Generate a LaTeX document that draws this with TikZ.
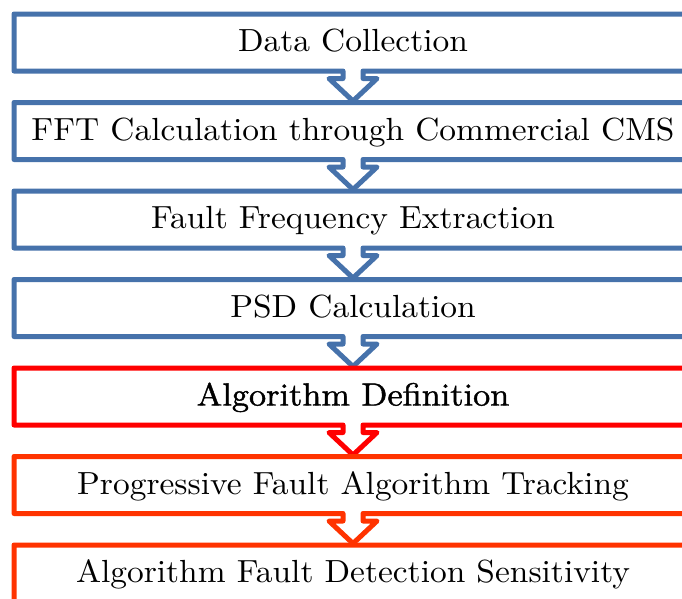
\documentclass[tikz,border=0pt]{standalone}
\usepackage{fontspec}
\usepackage{xcolor}
\usepackage{tikz}
\usetikzlibrary{positioning}
\setmainfont{lmroman10-regular}[Extension=.otf,FakeStretch=1.045]
\newfontfamily\heavylm{lmroman10-regular}[Extension=.otf,FakeStretch=1.07,FakeBold=1.3]
\definecolor{stageblue}{HTML}{4672AB}
\definecolor{stagered}{HTML}{FF0000}
\definecolor{stageorange}{HTML}{FF3300}
\tikzset{
  stagetext/.style={font=\fontsize{32}{38}\selectfont, inner sep=0pt, anchor=base},
  stageline/.style={line width=5pt, line join=round},
}

\begin{document}
\begin{tikzpicture}[x=1pt,y=-1pt]
  \useasboundingbox (0,0) rectangle (682,598);
  \clip (0,0) rectangle (682,598);
  \foreach \i/\c/\t in {0/stageblue/Data Collection,
                        1/stageblue/FFT Calculation through Commercial CMS,
                        2/stageblue/Fault Frequency Extraction,
                        3/stageblue/PSD Calculation,
                        4/stagered/\heavylm Algorithm Definition,
                        5/stageorange/Progressive Fault Algorithm Tracking,
                        6/stageorange/Algorithm Fault Detection Sensitivity} {
    \pgfmathsetmacro{\ytop}{14+88.5*\i}
    \pgfmathsetmacro{\ybot}{\ytop+57}
    % box with the notch arrow in its lower edge
    \draw[stageline,\c] (14,\ytop) -- (692,\ytop) -- (692,\ybot)
      -- (363,\ybot) -- (363,{\ybot+7.5}) -- (377,{\ybot+7.5})
      -- (353,{\ybot+30}) -- (329,{\ybot+7.5}) -- (343,{\ybot+7.5})
      -- (343,\ybot) -- (14,\ybot) -- cycle;
    \node[stagetext] (stage\i) at (353,{\ytop+37.5}) {\t};
  }
\end{tikzpicture}
\end{document}
